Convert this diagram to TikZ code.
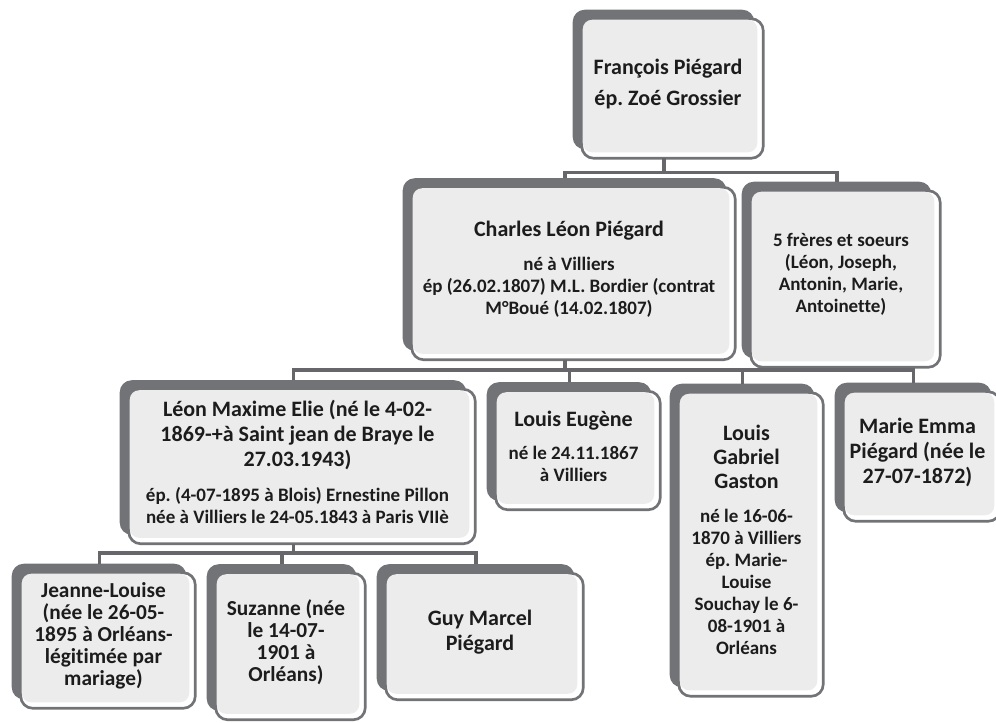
\documentclass[tikz,border=0pt]{standalone}
\usepackage{fontspec}
\setmainfont{Carlito}[Ligatures=NoCommon]
\usetikzlibrary{backgrounds}
\frenchspacing

\definecolor{gris}{RGB}{114,115,119}
\definecolor{fond}{RGB}{236,236,236}
\definecolor{encre}{RGB}{28,28,28}

\newcommand{\grand}{\fontsize{16.5}{18.75}\selectfont}
\newcommand{\moyen}{\fontsize{16}{16.5}\selectfont}
\newcommand{\petit}{\fontsize{14.25}{16.5}\selectfont}

\tikzset{
    membre/.style={inner sep=0pt, align=center, text=encre, font=\bfseries\petit},
    nom/.style={font=\bfseries\grand},
    lien/.style={draw=gris!90!black, line width=2.6pt},
    dos/.style={fill=gris, rounded corners=9pt},
    cadre/.style={fill=white, draw=gris, line width=2pt, rounded corners=9pt},
    dedans/.style={fill=fond, rounded corners=7pt}
}

\begin{document}
\begin{tikzpicture}[x=0.75pt, y=-0.75pt]
    \useasboundingbox (0,0) rectangle (996,722);

    \node[membre, nom, minimum width=142.5pt, minimum height=111pt] (fp) at (668,84)
        {François Piégard\\[4pt] ép. Zoé Grossier};

    \node[membre, minimum width=249pt, minimum height=135.75pt] (cl) at (569,269)
        {{\grand Charles Léon Piégard}\\[9pt] né à Villiers\\
         ép (26.02.1807) M.L. Bordier (contrat\\ M°Boué (14.02.1807)};
    \node[membre, minimum width=148.5pt, minimum height=138.75pt] (fs) at (841,274.5)
        {5 frères et soeurs\\ (Léon, Joseph,\\ Antonin, Marie,\\ Antoinette)};

    \node[membre, minimum width=266.25pt, minimum height=122.25pt] (lm) at (297.5,462)
        {{\grand Léon Maxime Elie (né le 4-02-}\\[2.25pt]
         {\grand 1869-+à Saint jean de Braye le}\\[2.25pt]
         {\grand 27.03.1943)}\\[9.75pt]
         ép. (4-07-1895 à Blois) Ernestine Pillon\\
         née à Villiers le 24-05.1843 à Paris VIIè};
    \node[membre, minimum width=129.75pt, minimum height=95.25pt] (le) at (573.5,446)
        {{\grand Louis Eugène}\\[8.25pt] né le 24.11.1867\\ à Villiers};
    \node[membre, minimum width=114.75pt, minimum height=234pt] (lg) at (746.5,540)
        {{\grand Louis}\\[1.5pt] {\grand Gabriel}\\[1.5pt] {\grand Gaston}\\[9pt]
         né le 16-06-\\ 1870 à Villiers\\ ép. Marie-\\ Louise\\
         Souchay le 6-\\ 08-1901 à\\ Orléans};
    \node[membre, nom, minimum width=123.75pt, minimum height=103.5pt] (me) at (917.5,452)
        {Marie Emma\\ Piégard (née le\\ 27-07-1872)};

    \node[membre, font=\bfseries\moyen, minimum width=137.25pt, minimum height=108pt] (jl) at (103.5,636)
        {Jeanne-Louise\\ (née le 26-05-\\ 1895 à Orléans-\\ légitimée par\\ mariage)};
    \node[membre, font=\bfseries\moyen, minimum width=118.5pt, minimum height=116.25pt] (sz) at (286,642)
        {Suzanne (née\\ le 14-07-\\ 1901 à\\ Orléans)};
    \node[membre, nom, minimum width=154.5pt, minimum height=101.25pt] (gm) at (480,632)
        {Guy Marcel\\[0.5pt] Piégard};

    \begin{scope}[on background layer]
        \foreach \n in {fp,cl,fs,lm,le,lg,me,jl,sz,gm} {
            \path[dos] (\n.north west) rectangle ([xshift=-6.75pt,yshift=6.75pt]\n.south east);
            \path[cadre] ([xshift=6.75pt,yshift=-6.75pt]\n.north west) rectangle (\n.south east);
            \path[dedans] ([xshift=7.5pt,yshift=-7.5pt]\n.north west)
                rectangle ([xshift=-4.5pt,yshift=4.5pt]\n.south east);
        }
    \end{scope}

    \foreach \e in {cl,fs}
        \draw[lien] ([xshift=-3pt]fp.south) -- ++(0,-10.5pt) -| ([xshift=-3pt]\e.north);
    \foreach \e in {lm,le,lg,me}
        \draw[lien] ([xshift=-3pt]cl.south) -- ++(0,-7.5pt) -| ([xshift=-3pt]\e.north);
    \foreach \e in {jl,sz,gm}
        \draw[lien] ([xshift=-3pt]lm.south) -- ++(0,-7pt) -| ([xshift=-3pt]\e.north);
\end{tikzpicture}
\end{document}
